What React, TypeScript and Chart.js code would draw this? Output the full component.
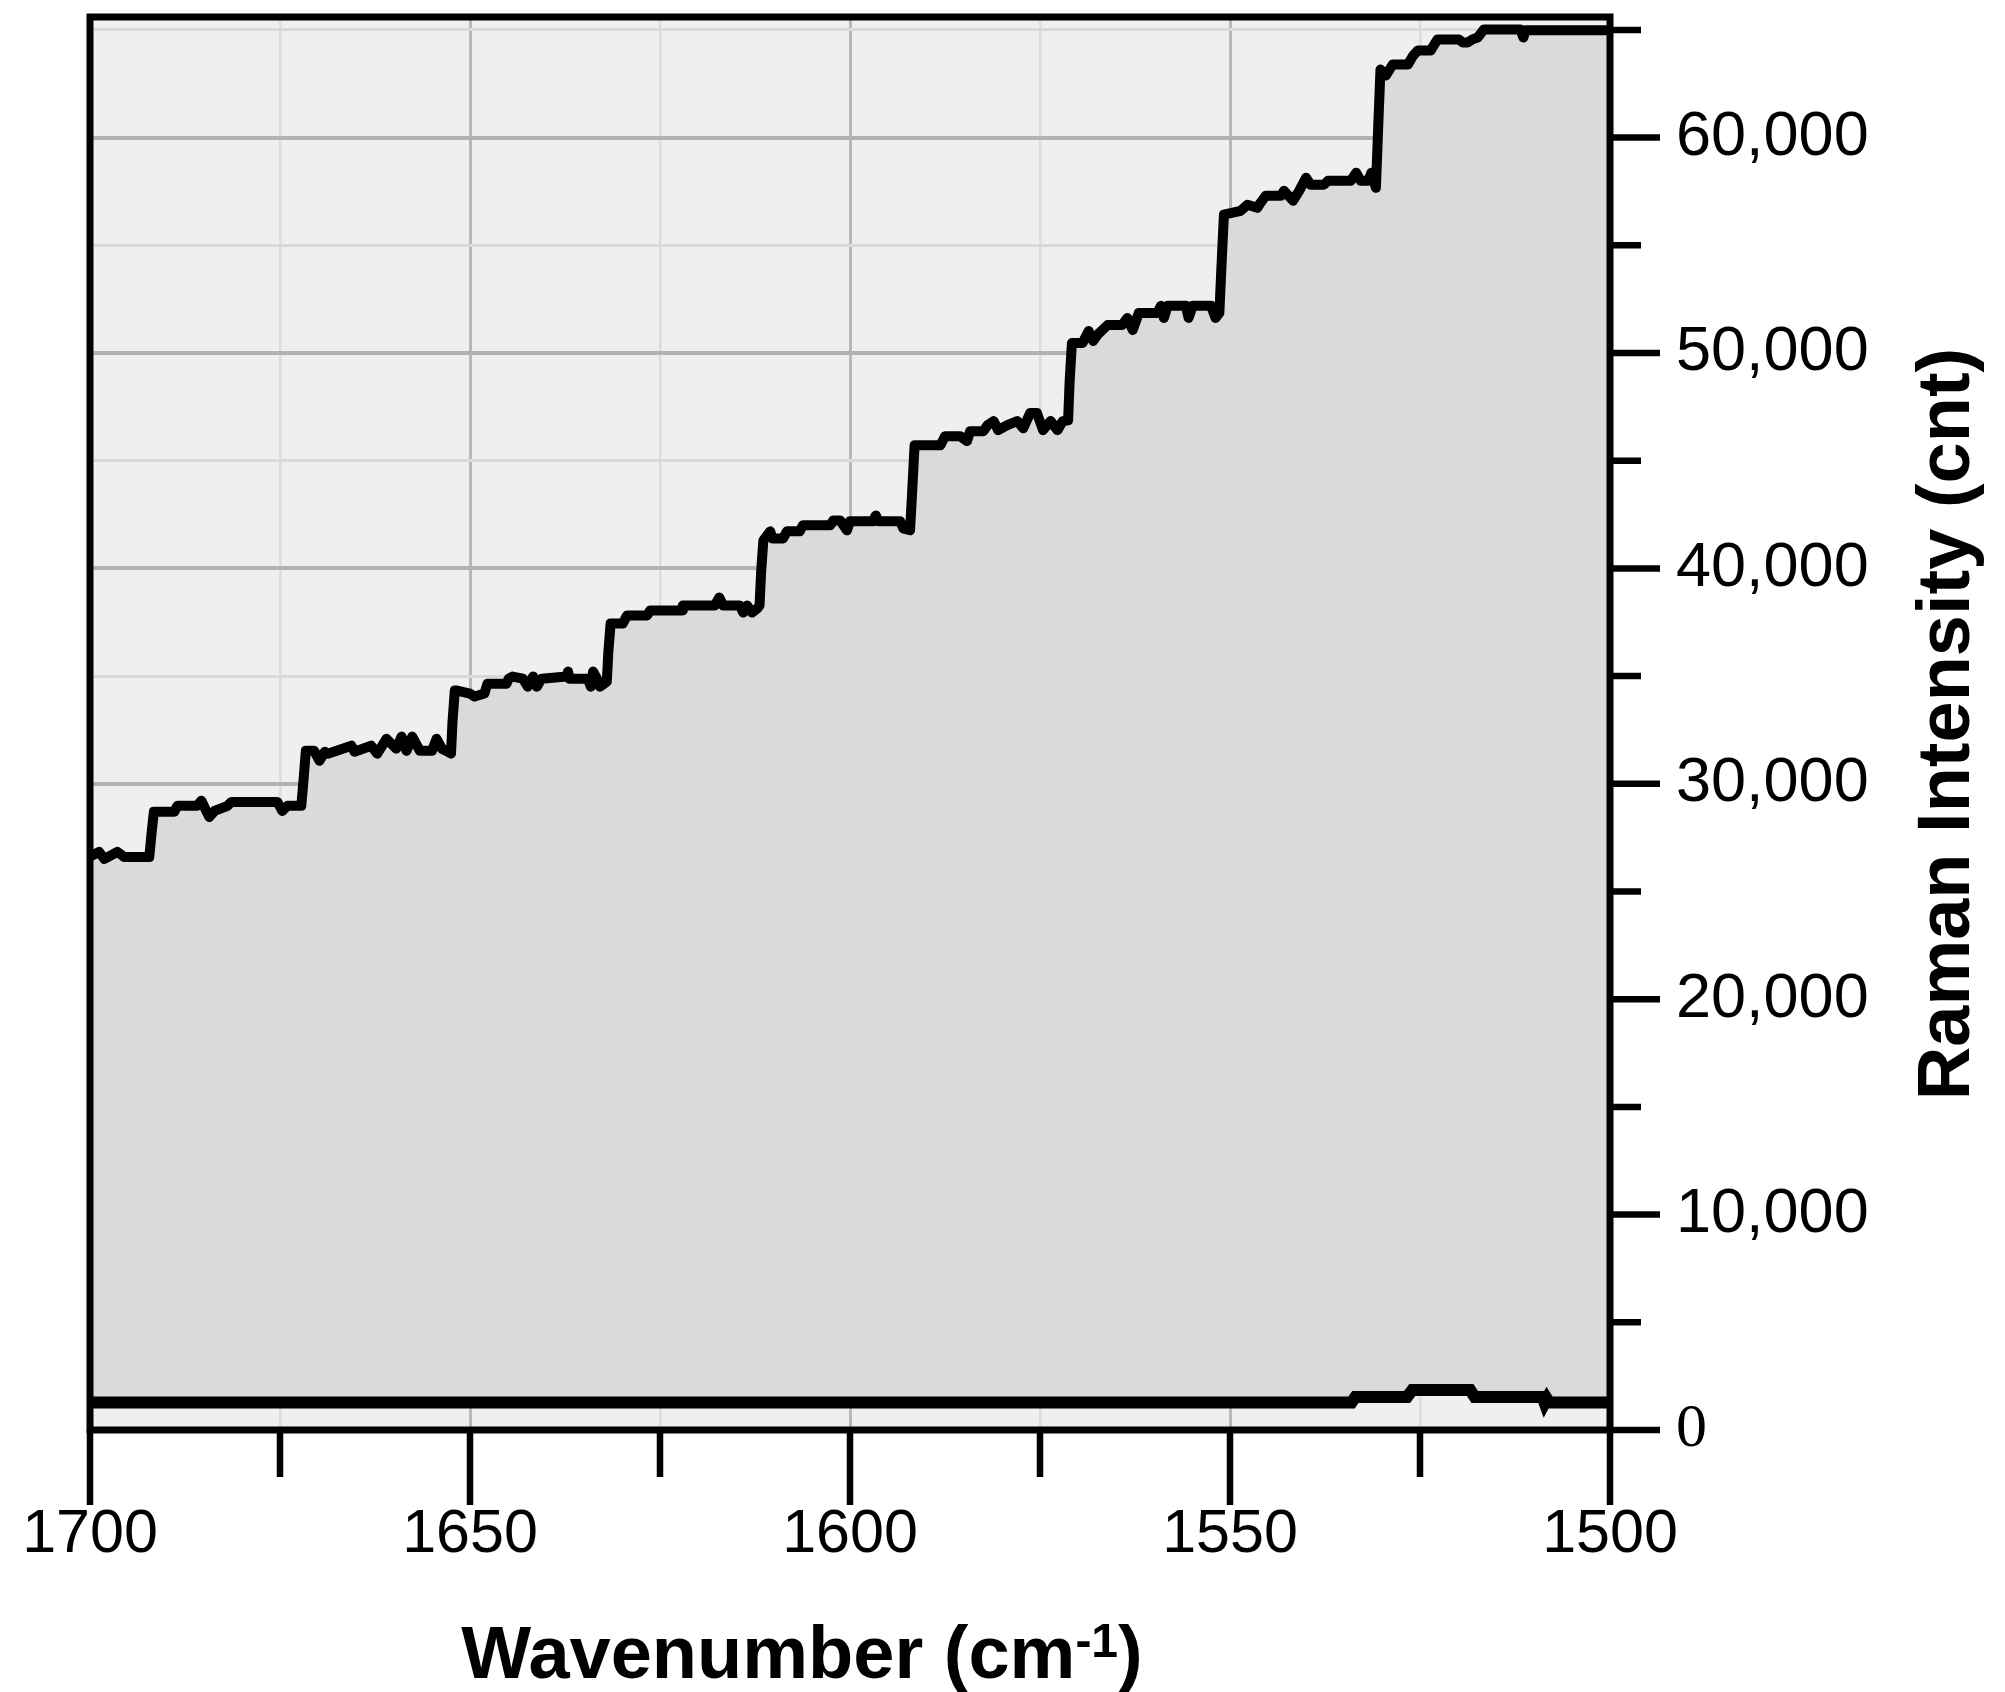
import React, { useEffect, useRef } from 'react';
import { Chart, registerables } from 'chart.js';

Chart.register(...registerables);

// Upper spectrum (saturated, stair-stepped), read left (1700) to right (1500)
const upperWavenumber = [
  1700.0, 1699.8, 1698.8, 1698.1, 1696.4, 1695.5, 1692.2, 1691.9, 1691.6,
  1691.15, 1688.9, 1688.5, 1685.9, 1685.35, 1684.3, 1683.6, 1681.9, 1681.4, 1675.35, 1674.7, 1674.0, 1672.2, 1671.9, 1671.6,
  1670.5, 1669.8, 1669.1, 1668.7, 1665.6, 1665.2, 1663.0, 1662.2, 1661.0, 1659.7, 1659.0, 1658.35, 1657.6, 1656.6, 1655.0, 1654.4, 1653.7, 1652.9, 1652.5, 1652.3, 1652.0,
  1651.7, 1650.0, 1649.4, 1648.1, 1647.7, 1645.2, 1644.9, 1644.4, 1643.05, 1642.4, 1641.7, 1641.2, 1640.6, 1637.3, 1637.1, 1636.9, 1634.5, 1634.1, 1633.8, 1633.3, 1632.9, 1632.0, 1631.8, 1631.5,
  1629.9, 1629.35, 1626.7, 1626.3, 1622.1, 1622.0, 1617.8, 1617.2, 1616.7, 1614.5, 1614.05, 1613.55, 1612.9, 1612.2, 1611.9, 1611.7, 1611.4,
  1610.5, 1610.2, 1608.8, 1608.3, 1606.6, 1606.2, 1602.6, 1602.2, 1601.3, 1600.4, 1600.0, 1597.0, 1596.6, 1596.3, 1593.4, 1593.0, 1592.1, 1591.8, 1591.5,
  1588.1, 1587.5, 1585.5, 1584.6, 1584.2, 1582.45, 1581.9, 1581.1, 1580.5, 1579.3, 1578.0, 1577.2, 1576.3, 1575.4, 1574.6, 1573.6, 1572.7, 1572.0, 1571.3, 1571.1, 1570.8,
  1569.4, 1568.6, 1568.0, 1567.45, 1566.1, 1564.2, 1563.5, 1562.8, 1562.0, 1559.55, 1559.1, 1558.7, 1558.2, 1555.8, 1555.45, 1554.9, 1552.5, 1551.9, 1551.4, 1551.1, 1550.8,
  1548.6, 1547.7, 1546.4, 1546.0, 1545.3, 1543.3, 1542.9, 1541.7, 1540.9, 1540.0, 1539.4, 1537.65, 1537.1, 1534.1, 1533.4, 1532.8, 1531.8, 1531.4, 1530.8, 1530.5, 1530.2,
  1529.5, 1528.6, 1526.6, 1525.9, 1525.3, 1523.6, 1522.7, 1519.9, 1519.4, 1518.7, 1518.1, 1517.4, 1516.6, 1516.1, 1511.8, 1511.4, 1511.1, 1500.0,
];
const upperIntensity = [
  26650, 26650, 26840, 26510, 26840, 26600, 26600, 27700, 28700,
  28700, 28700, 28980, 28980, 29210, 28460, 28740, 28980, 29160, 29160, 28740, 28980, 28980, 30200, 31530,
  31530, 31070, 31490, 31400, 31770, 31490, 31770, 31400, 32090, 31630, 32190, 31530, 32190, 31530, 31530, 32090, 31630, 31490, 31400, 32900, 34330,
  34330, 34190, 34050, 34190, 34650, 34650, 34880, 34980, 34880, 34510, 34980, 34510, 34880, 34980, 35210, 34880, 34880, 34510, 35210, 34880, 34510, 34740, 36100, 37440,
  37440, 37810, 37810, 38050, 38050, 38280, 38280, 38650, 38280, 38280, 37950, 38280, 37950, 38140, 38280, 39800, 41300,
  41720, 41390, 41390, 41720, 41720, 42000, 42000, 42230, 42230, 41770, 42190, 42190, 42460, 42190, 42190, 41860, 41770, 43700, 45720,
  45720, 46140, 46140, 45910, 46370, 46370, 46650, 46840, 46420, 46650, 46840, 46510, 47210, 47210, 46420, 46840, 46420, 46840, 46880, 48700, 50460,
  50460, 51020, 50560, 50840, 51300, 51300, 51630, 51070, 51860, 51860, 52190, 51630, 52190, 52190, 51630, 52190, 52190, 51630, 51860, 54200, 56420,
  56600, 56880, 56740, 56970, 57300, 57300, 57530, 57070, 57530, 58140, 57810, 57810, 58000, 58000, 58370, 58000, 58000, 58370, 57670, 60500, 63160,
  62880, 63390, 63390, 63810, 64040, 64040, 64560, 64560, 64420, 64420, 64560, 64650, 65020, 65020, 65020, 64650, 64980, 64980,
];

// Lower (baseline) trace
const baseWavenumber = [1700.0, 1534.0, 1533.5, 1526.7, 1526.0, 1518.4, 1517.8, 1508.9, 1508.6, 1508.3, 1508.0, 1500.0];
const baseIntensity = [1280, 1280, 1535, 1535, 1860, 1860, 1535, 1535, 1250, 1450, 1280, 1280];

// Axis ticks
const xTickValues = [1700, 1675, 1650, 1625, 1600, 1575, 1550, 1525, 1500];
const xLabelValues = [1700, 1650, 1600, 1550, 1500];
const yTickValues = [0, 5000, 10000, 15000, 20000, 25000, 30000, 35000, 40000, 45000, 50000, 55000, 60000, 65000];
const yLabelValues = [0, 10000, 20000, 30000, 40000, 50000, 60000];

const X_TITLE_MAIN = 'Wavenumber (cm';
const X_TITLE_SUP = '-1';
const X_TITLE_END = ')';
const Y_TITLE = 'Raman Intensity (cnt)';

const fmt = (v: number) => String(v).replace(/\B(?=(\d{3})+(?!\d))/g, ',');

const framePlugin = {
  id: 'frame',
  beforeDraw(chart: any) {
    const { ctx, chartArea: a } = chart;
    ctx.save();
    ctx.fillStyle = '#ffffff';
    ctx.fillRect(0, 0, chart.width, chart.height);
    ctx.fillStyle = '#efefef';
    ctx.fillRect(a.left, a.top, a.right - a.left, a.bottom - a.top);
    ctx.restore();
  },
  afterDraw(chart: any) {
    const { ctx, chartArea: a, scales } = chart;
    const xs = scales.x;
    const ys = scales.y;
    ctx.save();
    ctx.strokeStyle = '#000';
    ctx.lineWidth = 6.5;
    ctx.lineCap = 'butt';
    ctx.beginPath();
    xTickValues.forEach((v) => {
      const px = xs.getPixelForValue(v);
      const len = v % 50 === 0 ? 75 : 47;
      ctx.moveTo(px, a.bottom);
      ctx.lineTo(px, a.bottom + len);
    });
    yTickValues.forEach((v) => {
      const py = ys.getPixelForValue(v);
      const len = v % 10000 === 0 ? 50 : 31;
      ctx.moveTo(a.right, py);
      ctx.lineTo(a.right + len, py);
    });
    ctx.stroke();
    ctx.lineWidth = 7;
    ctx.lineJoin = 'miter';
    ctx.strokeRect(a.left, a.top, a.right - a.left, a.bottom - a.top);

    // X title with superscript
    ctx.fillStyle = '#000';
    ctx.textBaseline = 'alphabetic';
    ctx.textAlign = 'left';
    const mainFont = 'bold 74px "Liberation Sans", Arial, sans-serif';
    const supFont = 'bold 48px "Liberation Sans", Arial, sans-serif';
    ctx.font = mainFont;
    const w1 = ctx.measureText(X_TITLE_MAIN).width;
    const w3 = ctx.measureText(X_TITLE_END).width;
    ctx.font = supFont;
    const w2 = ctx.measureText(X_TITLE_SUP).width;
    const total = w1 + w2 + w3;
    const cx = 802;
    const base = 1678;
    const x0 = cx - total / 2;
    ctx.font = mainFont;
    ctx.fillText(X_TITLE_MAIN, x0, base);
    ctx.font = supFont;
    ctx.fillText(X_TITLE_SUP, x0 + w1, base - 21);
    ctx.font = mainFont;
    ctx.fillText(X_TITLE_END, x0 + w1 + w2, base);

    // Y title, reading bottom to top
    ctx.save();
    ctx.translate(1969, 724);
    ctx.rotate(-Math.PI / 2);
    ctx.textAlign = 'center';
    ctx.font = mainFont;
    ctx.fillText(Y_TITLE, 0, 0);
    ctx.restore();

    ctx.restore();
  },
};

export default function App() {
  const canvasRef = useRef<HTMLCanvasElement | null>(null);

  useEffect(() => {
    if (!canvasRef.current) return;
    const upper = upperWavenumber.map((x, i) => ({ x, y: upperIntensity[i] }));
    const lower = baseWavenumber.map((x, i) => ({ x, y: baseIntensity[i] }));

    const chart = new Chart(canvasRef.current, {
      type: 'line',
      data: {
        datasets: [
          {
            data: upper,
            borderColor: '#000000',
            borderWidth: 10,
            backgroundColor: '#dadada',
            fill: '+1',
            pointRadius: 0,
            tension: 0,
            borderJoinStyle: 'round',
            order: 1,
          },
          {
            data: lower,
            borderColor: '#000000',
            borderWidth: 12,
            fill: false,
            pointRadius: 0,
            tension: 0,
            borderJoinStyle: 'miter',
            order: -1,
          },
        ],
      },
      options: {
        animation: false,
        responsive: false,
        maintainAspectRatio: false,
        devicePixelRatio: 1,
        layout: { padding: { left: 90, top: 17, right: 0, bottom: 0 } },
        plugins: {
          legend: { display: false },
          tooltip: { enabled: false },
        },
        events: [],
        scales: {
          x: {
            type: 'linear',
            position: 'bottom',
            reverse: true,
            min: 1500,
            max: 1700,
            afterFit: (s: any) => {
              s.height = 262;
              s.paddingLeft = 0;
              s.paddingRight = 0;
              s.paddingTop = 0;
              s.paddingBottom = 0;
            },
            afterBuildTicks: (s: any) => {
              s.ticks = xTickValues.map((v) => ({ value: v }));
            },
            ticks: {
              autoSkip: false,
              maxRotation: 0,
              minRotation: 0,
              padding: 69,
              color: '#000',
              font: { family: '"Liberation Sans", Arial, sans-serif', size: 61 },
              callback: (v: any) => (xLabelValues.includes(Number(v)) ? String(v) : ''),
            },
            grid: {
              drawTicks: false,
              color: (c: any) => (c.tick && c.tick.value % 50 === 0 ? '#b8b8b8' : '#dcdcdc'),
              lineWidth: (c: any) => (c.tick && c.tick.value % 50 === 0 ? 3 : 2.5),
            },
            border: { display: false },
          },
          y: {
            type: 'linear',
            position: 'right',
            min: 0,
            max: 65600,
            afterFit: (s: any) => {
              s.width = 395;
              s.paddingLeft = 0;
              s.paddingRight = 0;
              s.paddingTop = 0;
              s.paddingBottom = 0;
            },
            afterBuildTicks: (s: any) => {
              s.ticks = yTickValues.map((v) => ({ value: v }));
            },
            ticks: {
              autoSkip: false,
              padding: 66,
              color: '#000',
              font: (c: any) =>
                c.tick && c.tick.value === 0
                  ? { family: '"Liberation Serif", "Times New Roman", serif', size: 62 }
                  : { family: '"Liberation Sans", Arial, sans-serif', size: 63 },
              callback: (v: any) => (yLabelValues.includes(Number(v)) ? fmt(Number(v)) : ''),
            },
            grid: {
              drawTicks: false,
              color: (c: any) => (c.tick && c.tick.value % 10000 === 0 ? '#b2b2b2' : '#d9d9d9'),
              lineWidth: (c: any) => (c.tick && c.tick.value % 10000 === 0 ? 4 : 3),
            },
            border: { display: false },
          },
        },
      },
      plugins: [framePlugin],
    } as any);

    return () => chart.destroy();
  }, []);

  return (
    <div style={{ position: 'absolute', left: 0, top: 0, width: 2005, height: 1692, background: '#fff' }}>
      <canvas ref={canvasRef} width={2005} height={1692} style={{ display: 'block', width: 2005, height: 1692 }} />
    </div>
  );
}
